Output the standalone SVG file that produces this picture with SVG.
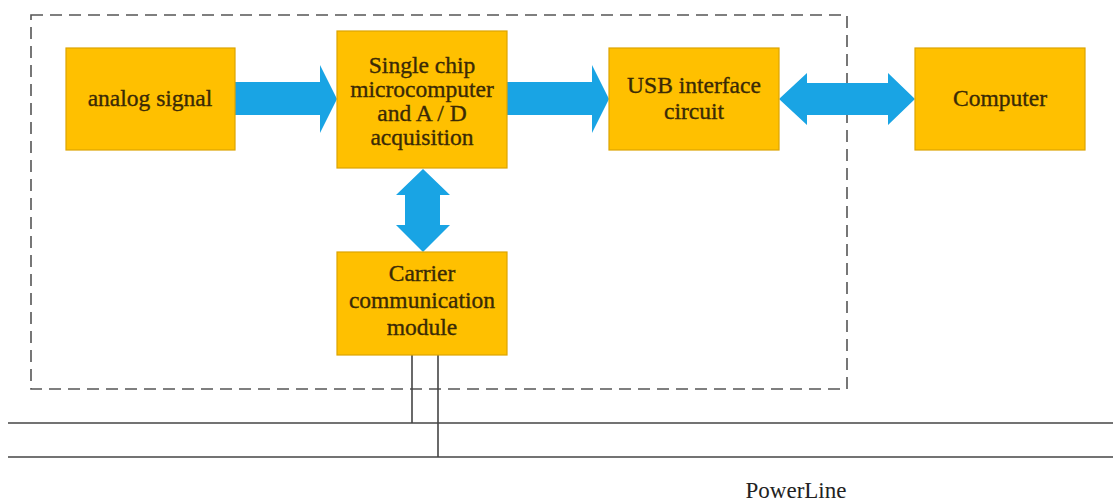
<svg xmlns="http://www.w3.org/2000/svg" width="1113" height="502" viewBox="0 0 1113 502">
  <style>
    .box { fill: #FFC000; stroke: #DDA400; stroke-width: 1.2; }
    .lbl { font-family: "Liberation Serif", "Times New Roman", serif; font-size: 23.5px; fill: #3a2a06; stroke: #3a2a06; stroke-width: 0.35; text-anchor: middle; }
    .flow { fill: #19A4E4; }
    .frame { fill: none; stroke: #555; stroke-width: 1.6; stroke-dasharray: 12 7; }
    .wire { stroke: #444; stroke-width: 1.6; fill: none; }
    .bus-label { font-family: "Liberation Serif", "Times New Roman", serif; font-size: 23px; fill: #222; text-anchor: middle; }
  </style>
  <rect width="1113" height="502" fill="#ffffff"/>

  <!-- board boundary -->
  <rect class="frame" x="31" y="15" width="816" height="374"/>

  <!-- connectors -->
  <g id="connectors">
    <polygon class="flow" points="235,82 320,82 320,65 337,99 320,133 320,115 235,115"/>
    <polygon class="flow" points="507,82 592,82 592,65 609,99 592,133 592,115 507,115"/>
    <polygon class="flow" points="779,99 807,73 807,83 888,83 888,73 915,99 888,125 888,115 807,115 807,125"/>
    <polygon class="flow" points="423,169 450,195 440,195 440,225 450,225 423,252 396,225 405,225 405,195 396,195"/>
    <line class="wire" x1="412" y1="355" x2="412" y2="423"/>
    <line class="wire" x1="438" y1="355" x2="438" y2="457"/>
  </g>

  <!-- power line bus -->
  <g id="powerline">
    <line class="wire" x1="8" y1="423" x2="1113" y2="423"/>
    <line class="wire" x1="8" y1="457" x2="1113" y2="457"/>
    <text class="bus-label" x="796" y="498">PowerLine</text>
  </g>

  <g id="analog">
    <rect class="box" x="66" y="48" width="169" height="102"/>
    <text class="lbl" x="150" y="106">analog signal</text>
  </g>

  <g id="mcu">
    <rect class="box" x="337" y="31" width="170" height="137"/>
    <text class="lbl" x="422" y="73">Single chip</text>
    <text class="lbl" x="422" y="97">microcomputer</text>
    <text class="lbl" x="422" y="121">and A / D</text>
    <text class="lbl" x="422" y="145">acquisition</text>
  </g>

  <g id="usb">
    <rect class="box" x="609" y="48" width="170" height="102"/>
    <text class="lbl" x="694" y="93">USB interface</text>
    <text class="lbl" x="694" y="119">circuit</text>
  </g>

  <g id="computer">
    <rect class="box" x="915" y="48" width="170" height="102"/>
    <text class="lbl" x="1000" y="106">Computer</text>
  </g>

  <g id="carrier">
    <rect class="box" x="337" y="252" width="170" height="103"/>
    <text class="lbl" x="422" y="281">Carrier</text>
    <text class="lbl" x="422" y="308">communication</text>
    <text class="lbl" x="422" y="335">module</text>
  </g>
</svg>
